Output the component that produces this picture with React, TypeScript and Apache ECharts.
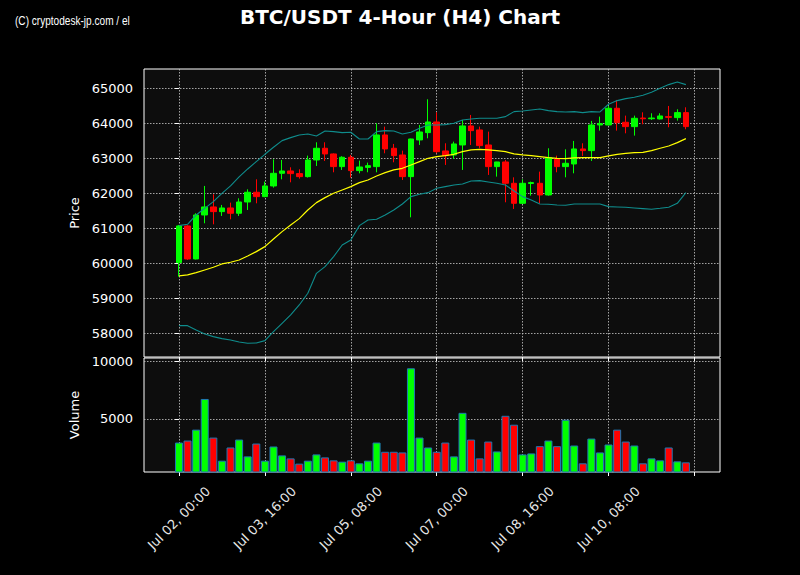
import React, { useEffect, useRef } from 'react';
import * as echarts from 'echarts';

const tickLabels = ['Jul 02, 00:00', 'Jul 03, 16:00', 'Jul 05, 08:00', 'Jul 07, 00:00', 'Jul 08, 16:00', 'Jul 10, 08:00'];
const tickIndex = [0, 10, 20, 30, 40, 50, 60];
const labelIndex = [0, 10, 20, 30, 40, 50];
const priceTicks = [58000, 59000, 60000, 61000, 62000, 63000, 64000, 65000];
const volumeTicks = [5000, 10000];

const opens = [60019, 61067, 60124, 61381, 61610, 61476, 61581, 61429, 61752, 62029, 61905, 62210, 62571, 62638, 62562, 62476, 62952, 63286, 63124, 62762, 63029, 62648, 62740, 62762, 63667, 63286, 63095, 62476, 63524, 63733, 64038, 63210, 63095, 63381, 63924, 63810, 63381, 62762, 62895, 62286, 61714, 62280, 62286, 61952, 62981, 62762, 62838, 63267, 63219, 63952, 63952, 64429, 64029, 63905, 64150, 64130, 64124, 64190, 64162, 64305];
const closes = [61067, 60124, 61381, 61610, 61476, 61581, 61429, 61752, 62029, 61905, 62210, 62571, 62638, 62562, 62476, 62952, 63286, 63124, 62762, 63029, 62648, 62752, 62790, 63667, 63267, 63076, 62476, 63552, 63752, 64038, 63190, 63076, 63410, 63924, 63790, 63362, 62762, 62895, 62286, 61714, 62286, 62305, 61952, 63019, 62762, 62857, 63267, 63219, 63952, 63990, 64429, 64019, 63905, 64143, 64130, 64150, 64210, 64170, 64305, 63905];
const lows = [59619, 60100, 60110, 61143, 61114, 61352, 61257, 61352, 61524, 61714, 61886, 62162, 62400, 62314, 62419, 62450, 62781, 62924, 62600, 62667, 62448, 62571, 62600, 62600, 63143, 62886, 62381, 61314, 63381, 63571, 63143, 62810, 62981, 62667, 63381, 63286, 62524, 62476, 61743, 61552, 61700, 61933, 61714, 61933, 62600, 62457, 62571, 63067, 62924, 63790, 63940, 63790, 63714, 63648, 63971, 64095, 64110, 63886, 64076, 63829];
const highs = [61095, 61090, 61429, 62210, 61971, 61667, 61733, 61857, 62114, 62400, 62333, 62971, 62952, 62743, 62686, 63076, 63457, 63457, 63140, 63060, 63095, 62933, 62876, 64000, 63905, 63410, 63219, 63560, 63952, 64686, 64314, 63429, 63476, 64095, 64238, 63905, 63762, 62900, 62952, 62457, 62400, 62333, 62619, 63286, 63076, 63257, 63495, 63429, 64067, 64190, 64495, 64667, 64219, 64219, 64314, 64286, 64286, 64495, 64400, 64457];
const volumes = [2919, 3093, 4047, 6734, 3353, 1330, 2486, 3180, 1706, 2833, 1330, 2573, 1792, 1532, 1070, 1330, 1879, 1619, 1359, 1243, 1359, 1099, 1330, 2919, 2110, 2110, 2052, 9422, 3353, 2486, 2110, 2919, 1706, 5520, 3180, 1532, 3006, 2139, 5260, 4480, 1879, 1966, 2602, 3093, 2602, 4914, 2659, 1099, 3266, 2052, 2746, 4047, 3006, 2659, 1099, 1532, 1359, 2486, 1272, 1185];
const maLine = [59638, 59667, 59733, 59810, 59886, 59981, 60029, 60095, 60210, 60333, 60476, 60695, 60905, 61095, 61276, 61524, 61733, 61876, 62000, 62095, 62190, 62305, 62381, 62495, 62590, 62667, 62714, 62810, 62905, 63000, 63048, 63076, 63114, 63190, 63238, 63257, 63238, 63219, 63190, 63124, 63095, 63076, 63048, 63019, 63000, 62990, 63010, 63019, 63019, 63019, 63067, 63114, 63143, 63162, 63171, 63219, 63286, 63352, 63448, 63562];
const upperBand = [61076, 61114, 61381, 61571, 61762, 62000, 62210, 62467, 62695, 62905, 63114, 63314, 63505, 63590, 63667, 63695, 63638, 63781, 63762, 63733, 63743, 63552, 63552, 63762, 63790, 63781, 63695, 63743, 63857, 63952, 63952, 63962, 64000, 64095, 64124, 64143, 64143, 64143, 64190, 64333, 64352, 64381, 64410, 64362, 64333, 64324, 64333, 64305, 64333, 64324, 64543, 64648, 64705, 64743, 64800, 64886, 65000, 65105, 65181, 65105];
const lowerBand = [58219, 58219, 58095, 57981, 57905, 57848, 57810, 57752, 57714, 57724, 57790, 58048, 58286, 58524, 58810, 59143, 59714, 59905, 60190, 60524, 60667, 61076, 61238, 61257, 61381, 61524, 61695, 61905, 61971, 62019, 62143, 62190, 62238, 62267, 62352, 62362, 62324, 62286, 62238, 62067, 61905, 61810, 61695, 61686, 61667, 61657, 61695, 61695, 61695, 61695, 61619, 61610, 61600, 61581, 61562, 61543, 61571, 61600, 61714, 62019];

const X_MIN = -4.07;
const X_MAX = 62.97;
const UP = '#00ff00';
const DOWN = '#ff0000';
const BAND = '#0f8c8c';
const GRID_LINE = { show: true, lineStyle: { type: [1.5, 1.5] as any, color: 'rgba(190,190,190,0.85)', width: 1 } };
const FONT = 'DejaVu Sans';

export default function App() {
  const ref = useRef<HTMLDivElement>(null);
  useEffect(() => {
    document.body.style.margin = '0';
    document.body.style.background = '#000';
    const chart = echarts.init(ref.current!, undefined, { renderer: 'svg' });
    const candleData = opens.map((o, i) => [i, o, closes[i], lows[i], highs[i]]);
    const volData = volumes.map((v, i) => ({
      value: [i, v],
      itemStyle: { color: closes[i] >= opens[i] ? UP : DOWN },
    }));
    const line = (arr: number[]) => arr.map((v, i) => [i, v]);
    const xBase = (grid: number) => ({
      type: 'value',
      gridIndex: grid,
      min: X_MIN,
      max: X_MAX,
      axisLine: { show: false },
      axisTick: { show: true, customValues: tickIndex, length: 4, lineStyle: { color: '#fff', width: 1 } },
      splitLine: GRID_LINE,
    });
    const plain = (v: number) => String(v);
    chart.setOption({
      animation: false,
      backgroundColor: '#000',
      title: {
        text: 'BTC/USDT 4-Hour (H4) Chart',
        left: 'center',
        top: 2,
        textStyle: { color: '#fff', fontSize: 20, fontWeight: 'bold', fontFamily: FONT },
      },
      graphic: [
        {
          type: 'text',
          x: 15,
          y: 15,
          scaleX: 0.84,
          style: { text: '(C) cryptodesk-jp.com / el', fill: '#fff', font: '12px "Liberation Sans"' },
        },
      ],
      grid: [
        { left: 144, top: 69, width: 576, height: 288, show: true, backgroundColor: '#0d0d0d', borderColor: '#fff', borderWidth: 1, outerBoundsMode: 'none' },
        { left: 144, top: 358, width: 576, height: 114, show: true, backgroundColor: '#0d0d0d', borderColor: '#fff', borderWidth: 1, outerBoundsMode: 'none' },
      ],
      xAxis: [
        { ...xBase(0), axisLabel: { show: false } },
        {
          ...xBase(1),
          axisLabel: {
            show: true,
            customValues: labelIndex,
            rotate: 45,
            align: 'center',
            verticalAlign: 'middle',
            margin: 46,
            color: '#e8e8e8',
            fontSize: 13,
            fontFamily: FONT,
            formatter: (v: number) => tickLabels[Math.round(v / 10)] ?? '',
          },
        },
      ],
      yAxis: [
        {
          type: 'value',
          gridIndex: 0,
          min: 57323,
          max: 65551,
          name: 'Price',
          nameLocation: 'middle',
          nameGap: 53,
          nameTextStyle: { color: '#fff', fontSize: 13, fontFamily: FONT },
          axisLine: { show: false },
          axisTick: { show: true, customValues: priceTicks, length: 4, lineStyle: { color: '#fff' } },
          axisLabel: { customValues: priceTicks, color: '#fff', fontSize: 13, fontFamily: FONT, margin: 11, formatter: plain },
          splitLine: GRID_LINE,
        },
        {
          type: 'value',
          gridIndex: 1,
          min: 339,
          max: 10321,
          name: 'Volume',
          nameLocation: 'middle',
          nameGap: 53,
          nameTextStyle: { color: '#fff', fontSize: 13, fontFamily: FONT },
          axisLine: { show: false },
          axisTick: { show: true, customValues: volumeTicks, length: 4, lineStyle: { color: '#fff' } },
          axisLabel: { customValues: volumeTicks, color: '#fff', fontSize: 13, fontFamily: FONT, margin: 11, formatter: plain },
          splitLine: GRID_LINE,
        },
      ],
      series: [
        {
          type: 'candlestick',
          xAxisIndex: 0,
          yAxisIndex: 0,
          data: candleData,
          encode: { x: 0, y: [1, 2, 3, 4] },
          barWidth: 6,
          itemStyle: { color: UP, color0: DOWN, borderColor: UP, borderColor0: DOWN, borderWidth: 1 },
        },
        {
          type: 'line',
          xAxisIndex: 0,
          yAxisIndex: 0,
          data: line(upperBand),
          showSymbol: false,
          lineStyle: { color: BAND, width: 1.1 },
        },
        {
          type: 'line',
          xAxisIndex: 0,
          yAxisIndex: 0,
          data: line(lowerBand),
          showSymbol: false,
          lineStyle: { color: BAND, width: 1.1 },
        },
        {
          type: 'line',
          xAxisIndex: 0,
          yAxisIndex: 0,
          data: line(maLine),
          showSymbol: false,
          lineStyle: { color: '#ffff00', width: 1.2 },
        },
        {
          type: 'bar',
          xAxisIndex: 1,
          yAxisIndex: 1,
          data: volData,
          barWidth: 8,
          itemStyle: { borderColor: '#1f77b4', borderWidth: 1 },
        },
      ],
    });
    return () => chart.dispose();
  }, []);
  return <div ref={ref} style={{ width: 800, height: 575, background: '#000' }} />;
}
